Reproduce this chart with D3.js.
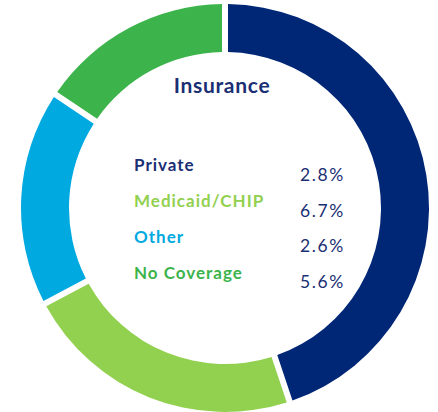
<!DOCTYPE html>
<html>
<head>
<meta charset="utf-8">
<script src="https://cdn.jsdelivr.net/npm/d3@7"></script>
<style>
  html, body { margin: 0; padding: 0; background: #fff; }
  svg { display: block; }
</style>
</head>
<body>
<div id="chart"></div>
<script>
const categories = ["Private", "Medicaid/CHIP", "Other", "No Coverage"];
const shares = [45.3, 22.3, 17.0, 15.4];
const rates = ["2.8%", "6.7%", "2.6%", "5.6%"];
const colors = ["#002776", "#92D050", "#00A9E0", "#3CB44B"];
const title = "Insurance";

const W = 438, H = 412;
const cx = 225, cy = 208, rOuter = 204, rInner = 156;

const svg = d3.select("#chart").append("svg")
  .attr("width", W).attr("height", H);

const g = svg.append("g").attr("transform", `translate(${cx},${cy})`);

const pie = d3.pie().sort(null).value(d => d.v).padAngle(6 / 180);
const arc = d3.arc().innerRadius(rInner).outerRadius(rOuter).padRadius(180);

const data = categories.map((c, i) => ({ c, v: shares[i], color: colors[i] }));

g.selectAll("path.slice").data(pie(data)).enter().append("path")
  .attr("class", "slice")
  .attr("d", arc)
  .attr("fill", d => d.data.color);

svg.append("text")
  .attr("x", 222).attr("y", 93)
  .attr("text-anchor", "middle")
  .attr("font-family", "Lato, 'Open Sans', sans-serif")
  .attr("font-weight", "bold")
  .attr("font-size", 21)
  .attr("letter-spacing", 0.7)
  .attr("fill", "#1B2F74")
  .text(title);

const yLabel = d3.scalePoint().domain(categories).range([171, 279]);
const yVal = d3.scalePoint().domain(categories).range([181, 288]);

svg.selectAll("text.cat").data(data).enter().append("text")
  .attr("class", "cat")
  .attr("x", 134).attr("y", d => yLabel(d.c))
  .attr("font-family", "Lato, 'Open Sans', sans-serif")
  .attr("font-weight", "bold")
  .attr("font-size", 17)
  .attr("letter-spacing", 1)
  .attr("fill", d => d.color === "#002776" ? "#1B2F74" : d.color)
  .text(d => d.c);

svg.selectAll("text.val").data(data).enter().append("text")
  .attr("class", "val")
  .attr("x", 300).attr("y", d => yVal(d.c))
  .attr("font-family", "Lato, 'Open Sans', sans-serif")
  .attr("font-size", 17.5)
  .attr("letter-spacing", 1.6)
  .attr("fill", "#1B2F74")
  .text((d, i) => rates[i]);
</script>
</body>
</html>
